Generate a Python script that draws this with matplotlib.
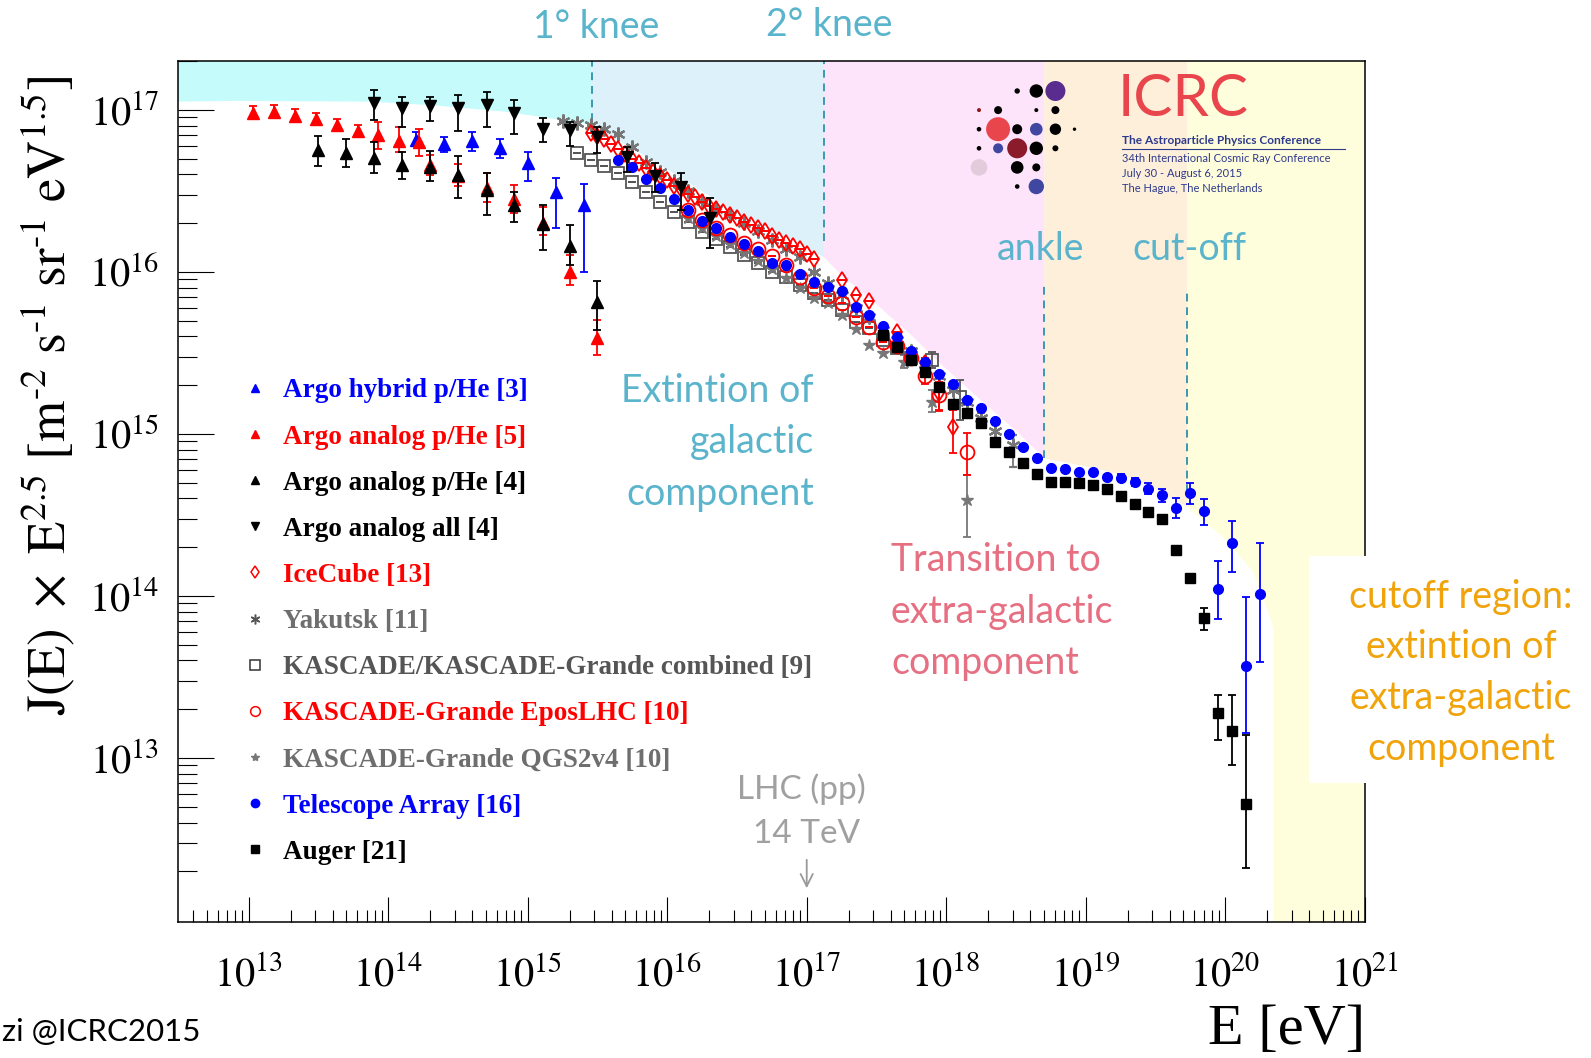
import numpy as np
import matplotlib
matplotlib.use("Agg")
import matplotlib.pyplot as plt
from matplotlib.lines import Line2D
from matplotlib.patches import Rectangle, Polygon
from matplotlib.ticker import FixedLocator, FuncFormatter, NullFormatter

plt.rcParams["mathtext.fontset"] = "stix"
plt.rcParams["font.family"] = ["Liberation Serif", "DejaVu Serif"]

W, H, DPI = 1591, 1058, 100

# ---------------- data: log10(E/eV), log10(J*E^2.5), log10 error up / down ----------------
argo_hyb_logE = [14.20, 14.40, 14.60, 14.80, 15.00, 15.20, 15.40]
argo_hyb_logJ = [16.815, 16.788, 16.809, 16.764, 16.671, 16.496, 16.414]
argo_hyb_up = [0.050, 0.047, 0.053, 0.058, 0.068, 0.086, 0.128]
argo_hyb_dn = [0.040, 0.045, 0.062, 0.058, 0.109, 0.226, 0.416]

argo_ana5_logE = [13.03, 13.18, 13.33, 13.48, 13.63, 13.78, 13.93, 14.08, 14.22,
                  14.30, 14.50, 14.71, 14.90, 15.11, 15.30, 15.50]
argo_ana5_logJ = [16.980, 16.986, 16.965, 16.942, 16.907, 16.870, 16.846, 16.809, 16.800,
                  16.660, 16.590, 16.516, 16.451, 16.300, 16.002, 15.594]
argo_ana5_up = [0.045, 0.045, 0.040, 0.040, 0.040, 0.040, 0.082, 0.088, 0.082,
                0.060, 0.076, 0.093, 0.086, 0.103, 0.103, 0.109]
argo_ana5_dn = [0.035, 0.035, 0.030, 0.030, 0.030, 0.030, 0.088, 0.066, 0.082,
                0.060, 0.058, 0.082, 0.088, 0.072, 0.082, 0.107]

argo_ana4_logE = [13.50, 13.70, 13.90, 14.10, 14.30, 14.50, 14.71, 14.90, 15.11, 15.30, 15.50]
argo_ana4_logJ = [16.753, 16.733, 16.706, 16.660, 16.650, 16.599, 16.506, 16.414, 16.294, 16.162, 15.813]
argo_ana4_up = [0.088, 0.088, 0.095, 0.082, 0.097, 0.119, 0.103, 0.082, 0.119, 0.128, 0.130]
argo_ana4_dn = [0.099, 0.088, 0.093, 0.088, 0.088, 0.144, 0.154, 0.103, 0.158, 0.120, 0.170]

argo_all_logE = [13.90, 14.10, 14.30, 14.50, 14.71, 14.90, 15.11, 15.30, 15.50, 15.71, 15.91, 16.10, 16.31]
argo_all_logJ = [17.041, 17.010, 17.027, 17.010, 17.031, 16.980, 16.883, 16.877, 16.835,
                 16.712, 16.593, 16.523, 16.331]
argo_all_up = [0.082, 0.072, 0.051, 0.082, 0.082, 0.082, 0.066, 0.051, 0.062, 0.062, 0.078, 0.090, 0.123]
argo_all_dn = [0.103, 0.113, 0.093, 0.140, 0.138, 0.128, 0.082, 0.097, 0.103, 0.093, 0.097, 0.140, 0.185]

icecube_logE = [15.45, 15.50, 15.55, 15.60, 15.65, 15.70, 15.75, 15.80, 15.85, 15.90, 15.95,
                16.00, 16.05, 16.10, 16.15, 16.20, 16.25, 16.30, 16.35, 16.40, 16.45, 16.50,
                16.55, 16.60, 16.65, 16.70, 16.75, 16.80, 16.85, 16.90, 16.95, 17.00, 17.05,
                17.25, 17.35, 17.45, 17.65, 17.85, 17.95, 18.05]
icecube_logJ = [16.86, 16.84, 16.82, 16.79, 16.76, 16.73, 16.70, 16.67, 16.64, 16.62, 16.59,
                16.57, 16.53, 16.51, 16.48, 16.46, 16.43, 16.41, 16.39, 16.37, 16.35, 16.33,
                16.31, 16.29, 16.27, 16.25, 16.22, 16.20, 16.18, 16.16, 16.14, 16.11, 16.08,
                15.95, 15.86, 15.82, 15.63, 15.44, 15.25, 15.045]
icecube_up = [0.0] * 37 + [0.03, 0.10, 0.103]
icecube_dn = [0.0] * 37 + [0.03, 0.10, 0.165]

yakutsk_logE = [15.25, 15.35, 15.45, 15.55, 15.65, 15.75, 15.85, 15.95, 16.05, 16.15, 16.25,
                16.35, 16.45, 16.55, 16.65, 16.75, 16.85, 16.95, 17.05, 17.15, 17.25, 17.35,
                17.45, 17.55, 17.65, 17.75, 17.85, 17.95, 18.05, 18.15, 18.25, 18.35, 18.48]
yakutsk_logJ = [16.93, 16.92, 16.91, 16.88, 16.85, 16.77, 16.68, 16.62, 16.56, 16.50, 16.44,
                16.39, 16.35, 16.30, 16.25, 16.20, 16.14, 16.09, 16.00, 15.93, 15.86, 15.78,
                15.72, 15.64, 15.58, 15.51, 15.43, 15.36, 15.27, 15.20, 15.10, 15.02, 14.93]
yakutsk_up = [0.0] * 30 + [0.03, 0.04, 0.062]
yakutsk_dn = [0.0] * 30 + [0.03, 0.05, 0.134]

kascade_logE = [15.35, 15.45, 15.55, 15.65, 15.75, 15.85, 15.95, 16.05, 16.15, 16.25, 16.35,
                16.45, 16.55, 16.65, 16.75, 16.85, 16.95, 17.05, 17.15, 17.25, 17.35, 17.45,
                17.55, 17.65, 17.75, 17.90, 18.10]
kascade_logJ = [16.733, 16.691, 16.654, 16.609, 16.557, 16.496, 16.434, 16.372, 16.311, 16.249,
                16.202, 16.156, 16.105, 16.054, 16.002, 15.971, 15.920, 15.868, 15.827, 15.765,
                15.693, 15.652, 15.58, 15.53, 15.47, 15.457, 15.230]
kascade_up = [0.0] * 25 + [0.050, 0.103]
kascade_dn = [0.0] * 25 + [0.050, 0.144]

epos_logE = [16.15, 16.25, 16.35, 16.45, 16.55, 16.65, 16.75, 16.85, 16.95, 17.05, 17.15,
             17.25, 17.35, 17.45, 17.55, 17.65, 17.75, 17.85, 17.95, 18.15]
epos_logJ = [16.38, 16.32, 16.27, 16.23, 16.18, 16.14, 16.10, 16.04, 15.97, 15.90, 15.85,
             15.81, 15.72, 15.66, 15.57, 15.54, 15.47, 15.36, 15.24, 14.89]
epos_up = [0.0] * 17 + [0.05, 0.08, 0.113]
epos_dn = [0.0] * 17 + [0.05, 0.10, 0.144]

qgs_logE = [16.15, 16.25, 16.35, 16.45, 16.55, 16.65, 16.75, 16.85, 16.95, 17.05, 17.15,
            17.25, 17.35, 17.45, 17.55, 17.70, 17.90, 18.15]
qgs_logJ = [16.33, 16.27, 16.22, 16.17, 16.12, 16.07, 16.02, 15.96, 15.90, 15.84, 15.81,
            15.735, 15.645, 15.55, 15.50, 15.446, 15.199, 14.593]
qgs_up = [0.0] * 15 + [0.04, 0.072, 0.154]
qgs_dn = [0.0] * 15 + [0.04, 0.062, 0.226]

ta_logE = [15.65, 15.75, 15.85, 15.95, 16.05, 16.15, 16.25, 16.35, 16.45, 16.55, 16.65,
           16.75, 16.85, 16.95, 17.05, 17.15, 17.25, 17.35, 17.45, 17.55, 17.65, 17.75,
           17.85, 17.95, 18.05, 18.15, 18.25, 18.35, 18.45, 18.55, 18.65, 18.75, 18.85,
           18.95, 19.05, 19.15, 19.25, 19.35, 19.45, 19.55, 19.65, 19.75, 19.85, 19.95,
           20.05, 20.15, 20.25]
ta_logJ = [16.691, 16.650, 16.572, 16.517, 16.451, 16.383, 16.317, 16.270, 16.218, 16.173, 16.131,
           16.057, 16.043, 15.988, 15.940, 15.909, 15.885, 15.784, 15.735, 15.665, 15.601, 15.514,
           15.446, 15.368, 15.309, 15.210, 15.162, 15.080, 15.000, 14.922, 14.854, 14.788, 14.782,
           14.767, 14.765, 14.736, 14.730, 14.706, 14.659, 14.623, 14.545, 14.638, 14.525, 14.043,
           14.325, 13.568, 14.010]
ta_up = [0.0] * 36 + [0.02, 0.025, 0.041, 0.037, 0.058, 0.058, 0.072, 0.173, 0.140, 0.428, 0.319]
ta_dn = [0.0] * 36 + [0.02, 0.025, 0.030, 0.045, 0.062, 0.070, 0.088, 0.185, 0.175, 0.412, 0.420]

auger_logE = [17.55, 17.65, 17.75, 17.85, 17.95, 18.05, 18.15, 18.25, 18.35, 18.45, 18.55,
              18.65, 18.75, 18.85, 18.95, 19.05, 19.15, 19.25, 19.35, 19.45, 19.55, 19.65,
              19.75, 19.85, 19.95, 20.05, 20.15]
auger_logJ = [15.611, 15.539, 15.457, 15.385, 15.288, 15.185, 15.131, 15.070, 14.951, 14.891,
              14.823, 14.751, 14.706, 14.704, 14.699, 14.685, 14.659, 14.617, 14.566, 14.517,
              14.475, 14.284, 14.109, 13.862, 13.276, 13.167, 12.714]
auger_up = [0.0] * 22 + [0.02, 0.062, 0.113, 0.222, 0.428]
auger_dn = [0.0] * 22 + [0.02, 0.072, 0.165, 0.210, 0.395]

legend_labels = ["Argo hybrid p/He [3]", "Argo analog p/He [5]", "Argo analog p/He [4]",
                 "Argo analog all [4]", "IceCube [13]", "Yakutsk [11]",
                 "KASCADE/KASCADE-Grande combined [9]", "KASCADE-Grande EposLHC [10]",
                 "KASCADE-Grande QGS2v4 [10]", "Telescope Array [16]", "Auger [21]"]

# region boundaries (log10 E) and the upper envelope of the shaded bands
region_edges = [12.40, 15.458, 17.125, 18.703, 19.728, 21.0]
region_colors = ["#C6FBFB", "#DDF1FB", "#FDE4FA", "#FDEFDA", "#FFFEDC"]
env_logE = [12.40, 12.90, 13.87, 14.35, 14.83, 15.07, 15.458, 15.95, 16.43, 16.90, 17.125,
            17.25, 17.50, 17.75, 17.95, 18.30, 18.50, 18.703, 19.00, 19.30, 19.50, 19.728,
            20.00, 20.20, 20.33, 20.345, 20.346, 21.0]
env_logJ = [17.05, 17.056, 17.051, 17.027, 16.99, 16.96, 16.91, 16.66, 16.40, 16.20, 16.09,
            15.98, 15.80, 15.61, 15.44, 15.17, 15.02, 14.85, 14.80, 14.74, 14.66, 14.55,
            14.35, 14.15, 13.85, 13.80, 11.5, 11.5]

# ---------------- helpers ----------------
def lin(a):
    return 10.0 ** np.asarray(a, dtype=float)


def yerr(logj, up, dn):
    j = lin(logj)
    return [j - j * 10.0 ** (-np.asarray(dn)), j * 10.0 ** np.asarray(up) - j]


def fx(px):
    return px / W


def fy(py):
    return 1.0 - py / H


BLUE, RED, BLACK = "#0000FF", "#FF0000", "#000000"
GRAY, DGRAY = "#6E6E6E", "#555555"
TEAL, PINK, ORANGE, LGRAY = "#5AB4CC", "#E66F82", "#F0A30A", "#A0A0A0"

fig = plt.figure(figsize=(W / DPI, H / DPI), dpi=DPI)
ax = fig.add_axes([fx(177.6), 1 - 922 / H, (1364.7 - 177.6) / W, (922 - 61) / H])
ax.set_xscale("log")
ax.set_yscale("log")
ax.set_xlim(10 ** 12.49, 1e21)
ax.set_ylim(10 ** 11.988, 10 ** 17.302)

# shaded bands
top = 18.0
eE = np.array(env_logE)
eJ = np.array(env_logJ)
for i, col in enumerate(region_colors):
    lo, hi = region_edges[i], region_edges[i + 1]
    m = (eE >= lo - 1e-9) & (eE <= hi + 1e-9)
    xs = list(lin(eE[m])) + [10 ** hi, 10 ** lo]
    ys = list(lin(eJ[m])) + [10 ** top, 10 ** top]
    ax.add_patch(Polygon(np.column_stack([xs, ys]), closed=True, facecolor=col,
                         edgecolor="none", zorder=0))

# dashed markers of spectral features
dash_kw = dict(color="#3C97B0", lw=1.4, ls=(0, (4, 3)), zorder=1)
ax.plot(lin([15.458, 15.458]), lin([16.93, 17.4]), **dash_kw)
ax.plot(lin([17.125, 17.125]), lin([16.19, 17.4]), **dash_kw)
ax.plot(lin([18.703, 18.703]), lin([14.85, 15.93]), **dash_kw)
ax.plot(lin([19.728, 19.728]), lin([14.64, 15.90]), **dash_kw)

eb = dict(ls="none", capsize=3, elinewidth=1.3, capthick=1.3)

ax.errorbar(lin(kascade_logE), lin(kascade_logJ), yerr=yerr(kascade_logJ, kascade_up, kascade_dn),
            marker="s", ms=8.5, mfc="none", mec=DGRAY, mew=1.3, ecolor=DGRAY, zorder=3, **eb)
ax.errorbar(lin(yakutsk_logE), lin(yakutsk_logJ), yerr=yerr(yakutsk_logJ, yakutsk_up, yakutsk_dn),
            marker=(6, 2, 0), ms=10, mec="#777777", mew=1.6, color="#777777", zorder=3, **eb)
ax.errorbar(lin(qgs_logE), lin(qgs_logJ), yerr=yerr(qgs_logJ, qgs_up, qgs_dn),
            marker="*", ms=9, mfc="#777777", mec="#777777", color="#777777", zorder=3, **eb)
ax.errorbar(lin(icecube_logE), lin(icecube_logJ), yerr=yerr(icecube_logJ, icecube_up, icecube_dn),
            marker="d", ms=8, mfc="none", mec=RED, mew=1.3, color=RED, zorder=4, **eb)
ax.errorbar(lin(epos_logE), lin(epos_logJ), yerr=yerr(epos_logJ, epos_up, epos_dn),
            marker="o", ms=10, mfc="none", mec=RED, mew=1.3, color=RED, zorder=4, **eb)
ax.errorbar(lin(ta_logE), lin(ta_logJ), yerr=yerr(ta_logJ, ta_up, ta_dn),
            marker="o", ms=7, mfc=BLUE, mec=BLUE, color=BLUE, zorder=5, **eb)
ax.errorbar(lin(auger_logE), lin(auger_logJ), yerr=yerr(auger_logJ, auger_up, auger_dn),
            marker="s", ms=6.5, mfc=BLACK, mec=BLACK, color=BLACK, zorder=5, **eb)
ax.errorbar(lin(argo_hyb_logE), lin(argo_hyb_logJ), yerr=yerr(argo_hyb_logJ, argo_hyb_up, argo_hyb_dn),
            marker="^", ms=8, color=BLUE, zorder=5, **eb)
ax.errorbar(lin(argo_ana5_logE), lin(argo_ana5_logJ), yerr=yerr(argo_ana5_logJ, argo_ana5_up, argo_ana5_dn),
            marker="^", ms=8, color=RED, zorder=5, **eb)
ax.errorbar(lin(argo_ana4_logE), lin(argo_ana4_logJ), yerr=yerr(argo_ana4_logJ, argo_ana4_up, argo_ana4_dn),
            marker="^", ms=8, color=BLACK, zorder=6, **eb)
ax.errorbar(lin(argo_all_logE), lin(argo_all_logJ), yerr=yerr(argo_all_logJ, argo_all_up, argo_all_dn),
            marker="v", ms=8, color=BLACK, zorder=6, **eb)

# legend
handles = [
    Line2D([], [], ls="none", marker="^", ms=6, color=BLUE),
    Line2D([], [], ls="none", marker="^", ms=6, color=RED),
    Line2D([], [], ls="none", marker="^", ms=6, color=BLACK),
    Line2D([], [], ls="none", marker="v", ms=6, color=BLACK),
    Line2D([], [], ls="none", marker="d", ms=6, mfc="none", mec=RED, mew=1.1),
    Line2D([], [], ls="none", marker=(6, 2, 0), ms=7, mec="#555555", mew=1.1),
    Line2D([], [], ls="none", marker="s", ms=6.5, mfc="none", mec="#333333", mew=1.1),
    Line2D([], [], ls="none", marker="o", ms=7, mfc="none", mec=RED, mew=1.1),
    Line2D([], [], ls="none", marker="*", ms=6, color="#777777"),
    Line2D([], [], ls="none", marker="o", ms=6, color=BLUE),
    Line2D([], [], ls="none", marker="s", ms=6, color=BLACK),
]
label_colors = [BLUE, RED, BLACK, BLACK, RED, GRAY, DGRAY, RED, GRAY, BLUE, BLACK]
leg = ax.legend(handles, legend_labels, loc="center left", bbox_to_anchor=(0.0557, 0.349),
                frameon=False, handlelength=0.8, handletextpad=0.65,
                labelspacing=0.78, borderpad=0, borderaxespad=0, labelcolor=label_colors,
                prop={"weight": "bold", "size": 19.5})
leg.set_zorder(8)

# axes styling
for s in ax.spines.values():
    s.set_linewidth(1.1)
    s.set_zorder(7)
ax.xaxis.set_major_locator(FixedLocator([10.0 ** k for k in range(13, 22)]))
ax.yaxis.set_major_locator(FixedLocator([10.0 ** k for k in range(13, 18)]))
ax.xaxis.set_minor_locator(FixedLocator([m * 10.0 ** k for k in range(12, 21) for m in range(2, 10)]))
ax.yaxis.set_minor_locator(FixedLocator([m * 10.0 ** k for k in range(11, 18) for m in range(2, 10)]))
fmt = FuncFormatter(lambda v, p: r"$10^{%d}$" % round(np.log10(v)))
ax.xaxis.set_major_formatter(fmt)
ax.yaxis.set_major_formatter(fmt)
ax.xaxis.set_minor_formatter(NullFormatter())
ax.yaxis.set_minor_formatter(NullFormatter())
ax.tick_params(axis="x", which="both", direction="in", top=False, bottom=True, width=0.8)
ax.tick_params(axis="x", which="major", length=18, labelsize=29, pad=25)
ax.tick_params(axis="x", which="minor", length=9)
ax.tick_params(axis="y", which="both", direction="in", left=True, right=False, width=0.8)
ax.tick_params(axis="y", which="major", length=26, labelsize=29, pad=13)
ax.tick_params(axis="y", which="minor", length=14)

# axis titles
fig.text(fx(48.7), fy(395.7),
         r"$\mathrm{J(E)}\ \times\ \mathrm{E}^{2.5}\ [\mathrm{m}^{\text{-}2}\ \mathrm{s}^{\text{-}1}"
         r"\ \mathrm{sr}^{\text{-}1}\ \mathrm{eV}^{1.5}]$",
         rotation=90, ha="center", va="center", fontsize=38)
fig.text(fx(1364.7), fy(1030), "E [eV]", ha="right", va="center", fontsize=42)

# annotations
sans = ["Lato", "DejaVu Sans"]
fig.text(fx(596.6), fy(27.4), "1° knee", ha="center", va="center", fontsize=27, color=TEAL, family=sans)
fig.text(fx(829), fy(25.4), "2° knee", ha="center", va="center", fontsize=27, color=TEAL, family=sans)
fig.text(fx(1041), fy(248.6), "ankle", ha="center", va="center", fontsize=27, color=TEAL, family=sans, zorder=9)
fig.text(fx(1189), fy(248.6), "cut-off", ha="center", va="center", fontsize=27, color=TEAL, family=sans, zorder=9)
for t, yy in zip(["Extintion of", "galactic", "component"], [390.6, 442.4, 494.1]):
    fig.text(fx(813.8), fy(yy), t, ha="right", va="center", fontsize=27, color=TEAL, family=sans, zorder=9)
for t, yy in zip(["Transition to", "extra-galactic", "component"], [560, 611.8, 662.6]):
    fig.text(fx(891), fy(yy), t, ha="left", va="center", fontsize=27, color=PINK, family=sans, zorder=9)

fig.add_artist(Rectangle((fx(1309), fy(783)), (W - 1309) / W, (783 - 556) / H,
                         transform=fig.transFigure, facecolor="white", edgecolor="none", zorder=10))
for t, yy in zip(["cutoff region:", "extintion of", "extra-galactic", "component"],
                 [596.6, 647.4, 698.1, 748.9]):
    fig.text(fx(1461), fy(yy), t, ha="center", va="center", fontsize=27, color=ORANGE,
             family=sans, zorder=11)

fig.text(fx(801.6), fy(789.4), "LHC (pp)", ha="center", va="center", fontsize=24, color=LGRAY, family=sans)
fig.text(fx(806.7), fy(834.1), "14 TeV", ha="center", va="center", fontsize=24, color=LGRAY, family=sans)
ax.annotate("", xy=(1e17, 0.036), xytext=(1e17, 0.0755), xycoords=("data", "axes fraction"),
            arrowprops=dict(arrowstyle="->", color="#999999", lw=1.3, mutation_scale=22), zorder=9)

fig.text(fx(2), fy(1032), "zi @ICRC2015", ha="left", va="center", fontsize=22.5, color="black", family=sans)

# conference logo
lax = fig.add_axes([fx(960), fy(200), (1350 - 960) / W, (200 - 75) / H])
lax.set_xlim(960, 1350)
lax.set_ylim(200, 75)
lax.axis("off")
lax.patch.set_alpha(0)
dots = [(2, 0, 2.7, "k"), (3, 0, 6.7, "k"), (4, 0, 10, "#5B2C8F"),
        (0, 1, 2.0, "#8B1A1A"), (1, 1, 4, "k"), (3, 1, 2.0, "k"), (4, 1, 4, "k"),
        (0, 2, 2.3, "k"), (1, 2, 12, "#E8464C"), (2, 2, 5, "k"), (3, 2, 6.3, "#3F47A0"),
        (4, 2, 5.7, "k"), (5, 2, 1.7, "k"),
        (0, 3, 2.3, "k"), (1, 3, 5, "#3F47A0"), (2, 3, 10, "#8B1A2A"), (3, 3, 6.7, "k"),
        (4, 3, 3, "k"),
        (0, 4, 8.3, "#E2CCDC"), (2, 4, 6.3, "k"), (3, 4, 4, "k"),
        (2, 5, 2.3, "k"), (3, 5, 7.7, "#3F47A0")]
for c, r, rad, col in dots:
    lax.scatter([979 + c * 19.1], [91 + r * 19.1], s=(2 * rad * 72 / DPI) ** 2, color=col,
                edgecolors="none")
NAVY = "#2E3A8C"
lax.text(1118, 100, "ICRC", fontsize=42, color="#E8464C", family=["Lato", "DejaVu Sans"],
         ha="left", va="center", fontweight="normal")
lax.text(1121.7, 140, "The Astroparticle Physics Conference", fontsize=8.6, color=NAVY,
         family=["Lato", "DejaVu Sans"], fontweight="bold", ha="left", va="center")
lax.plot([1121.7, 1345], [149.3, 149.3], color=NAVY, lw=0.8)
for t, yy in zip(["34th International Cosmic Ray Conference", "July 30 - August 6, 2015",
                  "The Hague, The Netherlands"], [159, 173.3, 188.3]):
    lax.text(1121.7, yy, t, fontsize=8.0, color=NAVY, family=["Lato", "DejaVu Sans"],
             ha="left", va="center")

fig.savefig("out.png", dpi=DPI)
